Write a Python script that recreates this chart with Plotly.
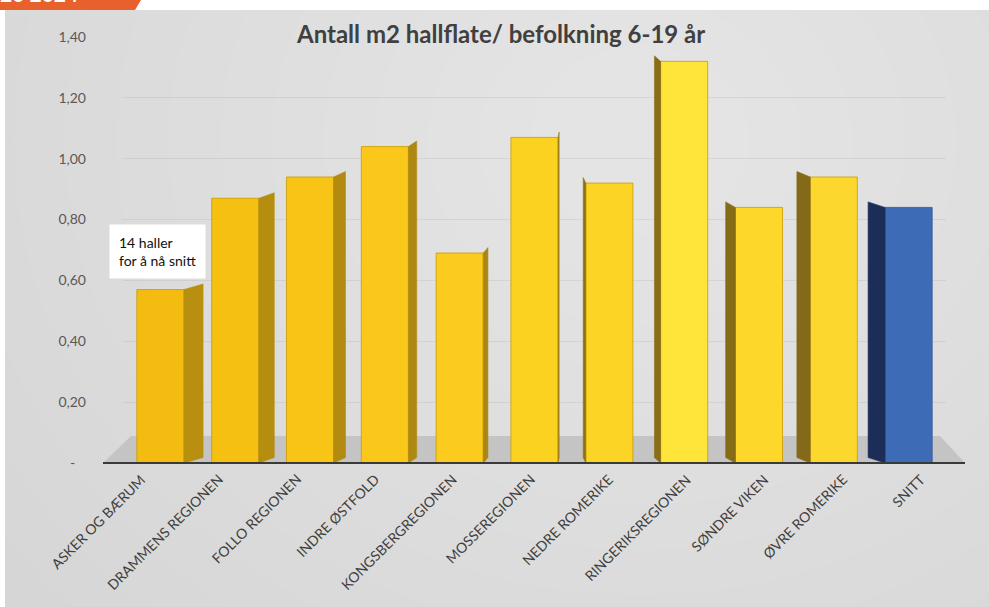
import plotly.graph_objects as go

# ---------------- data ----------------
categories = ["ASKER OG BÆRUM", "DRAMMENS REGIONEN", "FOLLO REGIONEN", "INDRE ØSTFOLD",
              "KONGSBERGREGIONEN", "MOSSEREGIONEN", "NEDRE ROMERIKE", "RINGERIKSREGIONEN",
              "SØNDRE VIKEN", "ØVRE ROMERIKE", "SNITT"]
values = [0.57, 0.87, 0.94, 1.04, 0.69, 1.07, 0.92, 1.32, 0.84, 0.94, 0.84]
y_tickvals = [0, 0.2, 0.4, 0.6, 0.8, 1.0, 1.2, 1.4]
y_ticktext = ["-\u00a0\u00a0\u00a0", "0,20", "0,40", "0,60", "0,80", "1,00", "1,20", "1,40"]
title_text = "Antall m2 hallflate/ befolkning 6-19 år"
note_text = "14 haller<br>for å nå snitt"
tag_text = "20 2024"

# ---------------- style ----------------
W_FIG, H_FIG = 989, 607
L, R, T, B = 123, 946, 37, 463
PW, PH = R - L, B - T


def px(x):
    return (x - L) / PW


def py(y):
    return (B - y) / PH


front_colors = ["#F4BC10", "#F6C013", "#F8C416", "#FAC81A", "#FBCC1D", "#FCD221",
                "#FCD426", "#FFE43A", "#FDD82A", "#FCD72E", "#3E6BB6"]
side_colors = ["#B88F0E", "#B58D0F", "#B28B10", "#AE8911", "#AA8712", "#A08016",
               "#8E7216", "#8A6E16", "#876C17", "#846A18", "#1C2E57"]
edge_colors = ["#C99A00"] * 10 + ["#2F5597"]

n = len(categories)
xs = list(range(n))
front_w = 0.63
slot_px = PW / n
rise = 0.018  # apparent lift of the back edge (3D look)

fig = go.Figure()

# side faces of the 3D-looking columns, derived from the values
for i, v in enumerate(values):
    shift = 3.6 * (5.3 - i) / slot_px
    sgn = 1 if shift > 0 else -1
    w = max(abs(shift), 0.006)
    edge = xs[i] + sgn * front_w / 2
    far = edge + sgn * w
    fig.add_trace(go.Scatter(
        x=[edge, edge, far, far, edge], y=[0, v, v + rise, rise, 0],
        mode="lines", fill="toself", fillcolor=side_colors[i],
        line=dict(width=0.6, color=side_colors[i]),
        hoverinfo="skip", showlegend=False,
    ))

fig.add_trace(go.Bar(
    x=xs, y=values, width=front_w,
    marker=dict(color=front_colors, line=dict(color=edge_colors, width=0.8)),
    showlegend=False,
))

shapes = []
# soft background brightening toward the upper middle/right
cx, cy = 640, 140
for k in range(18):
    r = 860 - k * 45
    shapes.append(dict(type="circle", xref="paper", yref="paper", layer="below",
                       x0=px(cx - r * 1.15), x1=px(cx + r * 1.15), y0=py(cy + r), y1=py(cy - r),
                       fillcolor="white", opacity=0.042, line=dict(width=0)))
# white border strips
shapes.append(dict(type="rect", xref="paper", yref="paper", layer="below",
                   x0=px(-5), x1=px(5), y0=py(620), y1=py(-5),
                   fillcolor="white", line=dict(width=0)))
shapes.append(dict(type="rect", xref="paper", yref="paper", layer="below",
                   x0=px(-5), x1=px(1000), y0=py(10), y1=py(-5),
                   fillcolor="white", line=dict(width=0)))
# floor
shapes.append(dict(type="path", xref="paper", yref="paper", layer="below",
                   path=f"M {px(103)},{py(463)} L {px(131)},{py(436)} L {px(940)},{py(436)} L {px(965)},{py(463)} Z",
                   fillcolor="#C4C4C4", line=dict(width=0)))
# front edge line
shapes.append(dict(type="line", xref="paper", yref="paper", layer="above",
                   x0=px(103), x1=px(965), y0=py(463), y1=py(463),
                   line=dict(color="#3A3A3A", width=2)))
# orange tag
shapes.append(dict(type="path", xref="paper", yref="paper", layer="above",
                   path=f"M {px(-5)},{py(-5)} L {px(144)},{py(-5)} L {px(135)},{py(10)} L {px(-5)},{py(10)} Z",
                   fillcolor="#E8612C", line=dict(width=0)))

annotations = [
    dict(text=title_text, xref="paper", yref="paper", x=px(500), y=py(33),
         xanchor="center", yanchor="middle", showarrow=False,
         font=dict(family="Lato", size=24, color="#404040", weight="bold")),
    dict(text=note_text, xref="x", yref="y", x=xs[0], y=0.694,
         xanchor="center", yanchor="middle", showarrow=False, align="left",
         bgcolor="white", borderpad=9, xshift=-3,
         font=dict(family="Lato", size=14, color="#111111")),
    dict(text=tag_text, xref="paper", yref="paper", x=px(-2), y=py(8),
         xanchor="left", yanchor="bottom", showarrow=False,
         font=dict(family="Lato", size=21, color="white", weight="bold")),
]
# category labels (rotated), spread slightly wider than the columns as in a 3D view
for i, c in enumerate(categories):
    annotations.append(dict(
        text=c, xref="x", yref="paper", x=xs[i], y=py(468),
        xanchor="right", yanchor="top", textangle=-45, showarrow=False,
        xshift=-9 + 3.15 * i,
        font=dict(family="Lato", size=14, color="#404040")))

fig.update_layout(
    width=W_FIG, height=H_FIG,
    margin=dict(l=L, r=W_FIG - R, t=T, b=H_FIG - B, pad=0),
    paper_bgcolor="#D2D2D2", plot_bgcolor="rgba(0,0,0,0)",
    shapes=shapes, annotations=annotations,
    xaxis=dict(range=[-0.5, n - 0.5], showgrid=False, showline=False, zeroline=False,
               showticklabels=False, ticks=""),
    yaxis=dict(range=[0, 1.4], tickvals=y_tickvals, ticktext=y_ticktext,
               showgrid=True, gridcolor="rgba(0,0,0,0.06)", gridwidth=1,
               zeroline=False, showline=False, ticks="", ticklabelstandoff=36,
               tickfont=dict(family="Lato", size=14, color="#595959")),
)

fig.write_html("out.html", config={"displayModeBar": False},
               post_script="document.body.style.margin='0';document.body.style.overflow='hidden';")
